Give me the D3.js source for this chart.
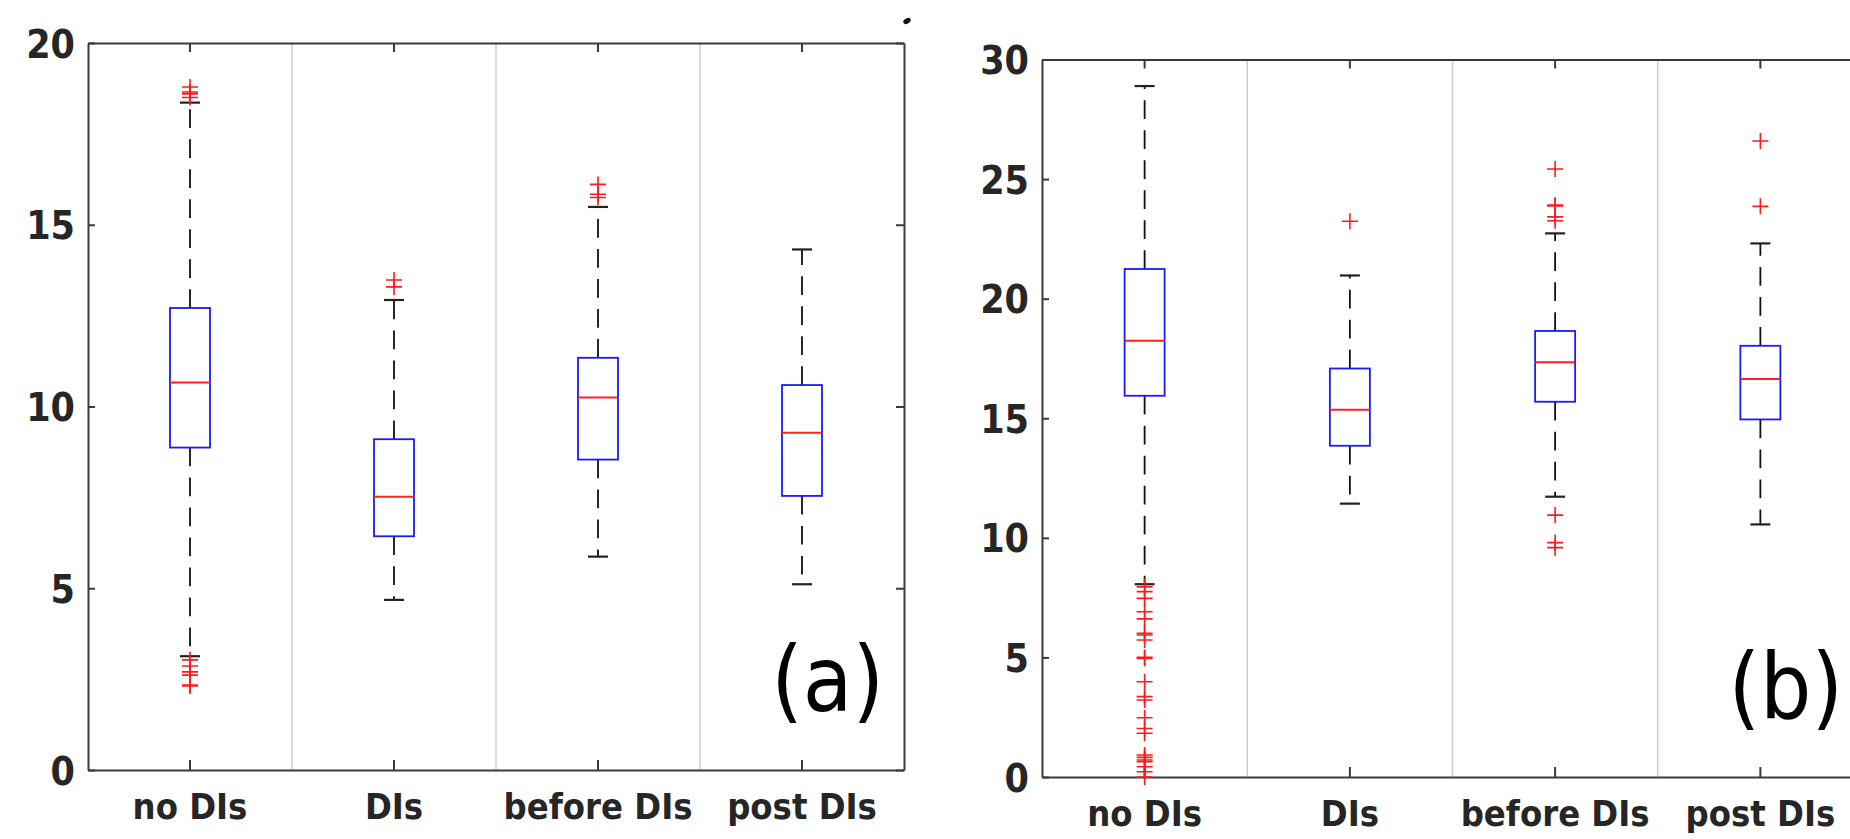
<!DOCTYPE html>
<html>
<head>
<meta charset="utf-8">
<script src="https://cdn.jsdelivr.net/npm/d3@7"></script>
<style>
  body { margin: 0; background: #fff; overflow: hidden; }
  text { font-family: "DejaVu Sans Condensed", "DejaVu Sans", sans-serif; font-stretch: condensed; fill: #262626; }
</style>
</head>
<body>
<div id="chart"></div>
<script>
// categories shared by both panels
var categories = ["no DIs", "DIs", "before DIs", "post DIs"];

// panel (a) box statistics, one value per category
var aLower = [3.13, 4.68, 5.87, 5.11];
var aQ1 = [8.87, 6.43, 8.54, 7.54];
var aMedian = [10.66, 7.52, 10.25, 9.28];
var aQ3 = [12.71, 9.10, 11.34, 10.59];
var aUpper = [18.36, 12.93, 15.49, 14.32];
var aOutliers = [
    [18.79, 18.65, 18.60, 18.50, 3.03, 2.86, 2.70, 2.61, 2.34, 2.31],
    [13.48, 13.29],
    [16.11, 15.84, 15.75],
    []
];
var aTicks = [0, 5, 10, 15, 20];

// panel (b)
var bLower = [8.06, 11.43, 11.72, 10.56];
var bQ1 = [15.94, 13.85, 15.69, 14.95];
var bMedian = [18.24, 15.36, 17.34, 16.64];
var bQ3 = [21.24, 17.08, 18.65, 18.03];
var bUpper = [28.89, 20.97, 22.73, 22.31];
var bOutliers = [
    [7.95, 7.75, 7.47, 6.91, 6.61, 6.01, 5.94, 5.73, 5.00, 4.96, 3.98, 3.36, 3.22,
     2.48, 2.03, 1.83, 0.92, 0.82, 0.71, 0.64, 0.43, 0.22, 0.0],
    [23.24],
    [25.42, 23.91, 23.88, 23.42, 23.26, 10.95, 9.80, 9.59],
    [26.59, 23.86]
];
var bTicks = [0, 5, 10, 15, 20, 25, 30];

var width = 1850, height = 839;

var svg = d3.select('#chart')
    .append('svg')
    .attr('width', width)
    .attr('height', height);

svg.append('rect').attr('width', width).attr('height', height).attr('fill', '#fff');

function buildStats(lower, q1, med, q3, upper, outl) {
    return categories.map(function (c, i) {
        return { key: c, lower: lower[i], q1: q1[i], median: med[i], q3: q3[i], upper: upper[i], outliers: outl[i] };
    });
}

function drawPanel(p) {
    var x = d3.scaleBand().domain(categories).range([p.left, p.right]);
    var y = d3.scaleLinear().domain([0, p.yMax]).range([p.bottom, p.top]);
    var g = svg.append('g');
    var cx = function (d) { return x(d) + x.bandwidth() / 2; };
    var boxW = 40, capW = 20;

    // light vertical separators between groups
    g.selectAll('.sep').data(categories.slice(1)).enter().append('line')
        .attr('x1', function (d) { return x(d); })
        .attr('x2', function (d) { return x(d); })
        .attr('y1', p.top).attr('y2', p.bottom)
        .attr('stroke', '#cccccc').attr('stroke-width', 1.5);

    // axes: labels left/bottom, plain ticks right/top
    var left = g.append('g').attr('transform', 'translate(' + p.left + ',0)')
        .call(d3.axisLeft(y).tickValues(p.ticks).tickSize(-7).tickSizeOuter(0).tickPadding(13));
    left.selectAll('text').attr('dy', '0.36em')
        .style('font-size', '39px').style('font-weight', 'bold');

    var right = g.append('g').attr('transform', 'translate(' + p.right + ',0)')
        .call(d3.axisRight(y).tickValues(p.ticks).tickSize(-8).tickSizeOuter(0).tickFormat(''));

    var bottom = g.append('g').attr('transform', 'translate(0,' + p.bottom + ')')
        .call(d3.axisBottom(x).tickSize(-10).tickSizeOuter(0));
    bottom.selectAll('text').attr('y', 49).attr('dy', 0)
        .style('font-size', '36px').style('font-weight', 'bold');

    var top = g.append('g').attr('transform', 'translate(0,' + p.top + ')')
        .call(d3.axisTop(x).tickSize(-9).tickSizeOuter(0).tickFormat(''));

    [left, right, bottom, top].forEach(function (a) {
        a.select('.domain').attr('stroke', '#3a3a3a').attr('stroke-width', 2);
        a.selectAll('.tick line').attr('stroke', '#3a3a3a').attr('stroke-width', 2);
    });

    var boxes = g.selectAll('.box').data(p.stats).enter().append('g').attr('class', 'box');

    // dashed whiskers, drawn from the box outwards
    boxes.append('line')
        .attr('x1', function (d) { return cx(d.key); }).attr('x2', function (d) { return cx(d.key); })
        .attr('y1', function (d) { return y(d.q3); }).attr('y2', function (d) { return y(d.upper); })
        .attr('stroke', '#111').attr('stroke-width', 1.8).attr('stroke-dasharray', '18.7,11.3');
    boxes.append('line')
        .attr('x1', function (d) { return cx(d.key); }).attr('x2', function (d) { return cx(d.key); })
        .attr('y1', function (d) { return y(d.q1); }).attr('y2', function (d) { return y(d.lower); })
        .attr('stroke', '#111').attr('stroke-width', 1.8).attr('stroke-dasharray', '18.7,11.3');

    // caps
    ['upper', 'lower'].forEach(function (k) {
        boxes.append('line')
            .attr('x1', function (d) { return cx(d.key) - capW / 2; })
            .attr('x2', function (d) { return cx(d.key) + capW / 2; })
            .attr('y1', function (d) { return y(d[k]); }).attr('y2', function (d) { return y(d[k]); })
            .attr('stroke', '#222').attr('stroke-width', 2.2);
    });

    boxes.append('rect')
        .attr('x', function (d) { return cx(d.key) - boxW / 2; })
        .attr('width', boxW)
        .attr('y', function (d) { return y(d.q3); })
        .attr('height', function (d) { return y(d.q1) - y(d.q3); })
        .attr('fill', 'none').attr('stroke', '#1a1aff').attr('stroke-width', 1.8);

    boxes.append('line')
        .attr('x1', function (d) { return cx(d.key) - boxW / 2; })
        .attr('x2', function (d) { return cx(d.key) + boxW / 2; })
        .attr('y1', function (d) { return y(d.median); }).attr('y2', function (d) { return y(d.median); })
        .attr('stroke', '#ff2020').attr('stroke-width', 2);

    // outliers as red plus signs
    boxes.selectAll('.out')
        .data(function (d) { return d.outliers.map(function (v) { return { key: d.key, v: v }; }); })
        .enter().append('path')
        .attr('transform', function (d) { return 'translate(' + cx(d.key) + ',' + y(d.v) + ')'; })
        .attr('d', 'M-8,0H8M0,-8V8')
        .attr('stroke', '#ff1a1a').attr('stroke-width', 1.6).attr('fill', 'none');

    g.append('text')
        .attr('x', p.right - 20).attr('y', p.bottom - 59)
        .attr('text-anchor', 'end')
        .style('font-size', '90px').style('fill', '#000')
        .text(p.label);
}

drawPanel({
    left: 88, right: 904, top: 43, bottom: 770, yMax: 20, ticks: aTicks, label: '(a)',
    stats: buildStats(aLower, aQ1, aMedian, aQ3, aUpper, aOutliers)
});

drawPanel({
    left: 1042, right: 1863, top: 59.5, bottom: 777, yMax: 30, ticks: bTicks, label: '(b)',
    stats: buildStats(bLower, bQ1, bMedian, bQ3, bUpper, bOutliers)
});

// small stray mark above panel (a)
svg.append('ellipse').attr('cx', 907).attr('cy', 21).attr('rx', 4).attr('ry', 2.5)
    .attr('transform', 'rotate(-30,907,21)').attr('fill', '#111');
</script>
</body>
</html>
